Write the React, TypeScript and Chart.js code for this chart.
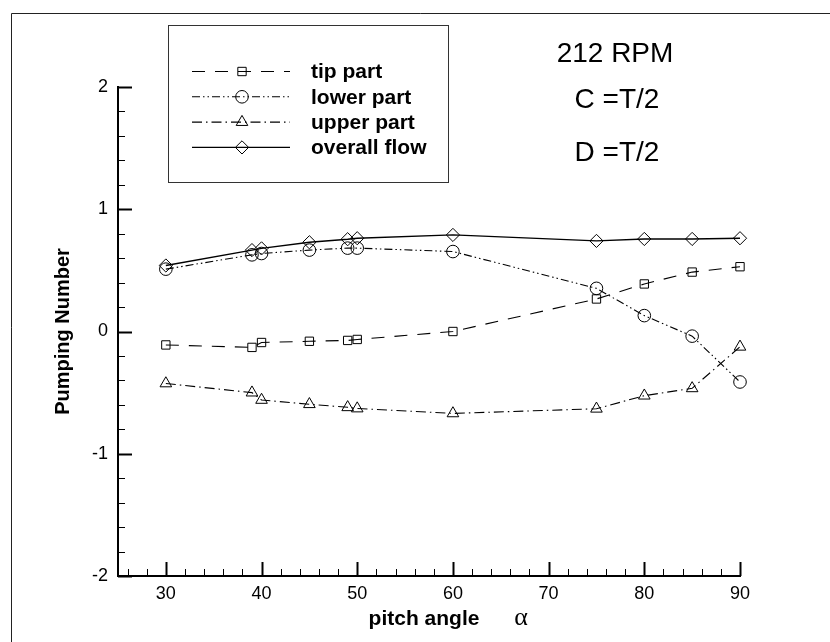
import React, { useEffect, useRef } from "react";
import { Chart, registerables } from "chart.js";

Chart.register(...registerables);

const FONT = "'Liberation Sans', Arial, Helvetica, sans-serif";
const SERIF = "'Liberation Serif', 'Times New Roman', serif";

// ---- data ----
const pitchAngles = [30, 39, 40, 45, 49, 50, 60, 75, 80, 85, 90];
const tipPart = [-0.11, -0.13, -0.09, -0.08, -0.073, -0.065, 0.0, 0.266, 0.389, 0.486, 0.53];
const lowerPart = [0.51, 0.627, 0.638, 0.666, 0.682, 0.682, 0.654, 0.353, 0.13, -0.038, -0.413];
const upperPart = [-0.425, -0.5, -0.56, -0.595, -0.62, -0.63, -0.67, -0.632, -0.525, -0.465, -0.125];
const overallFlow = [0.54, 0.666, 0.68, 0.73, 0.755, 0.763, 0.79, 0.741, 0.757, 0.757, 0.763];
const seriesLabels = ["tip part", "lower part", "upper part", "overall flow"];
const xTickValues = [30, 40, 50, 60, 70, 80, 90];
const yTickValues = [-2, -1, 0, 1, 2];
const notes = ["212 RPM", "C =T/2", "D =T/2"];
const xTitle = "pitch angle";
const xSymbol = "\u03B1";
const yTitle = "Pumping Number";

const seriesValues = [tipPart, lowerPart, upperPart, overallFlow];

const seriesStyle = [
  { pointStyle: "rect", radius: 5.9, dash: [13, 10], width: 1.1 },
  { pointStyle: "circle", radius: 6.3, dash: [8, 3, 1.5, 3, 1.5, 3], width: 1.1 },
  { pointStyle: "triangle", radius: 6.7, dash: [10, 4, 1.5, 4], width: 1.1 },
  { pointStyle: "rectRot", radius: 6.6, dash: [], width: 1.4 },
];

function drawMarker(ctx: CanvasRenderingContext2D, style: string, x: number, y: number, r: number) {
  ctx.beginPath();
  if (style === "circle") {
    ctx.arc(x, y, r, 0, Math.PI * 2);
  } else if (style === "rect") {
    const s = Math.SQRT1_2 * r;
    ctx.rect(x - s, y - s, 2 * s, 2 * s);
  } else if (style === "triangle") {
    ctx.moveTo(x, y - r);
    ctx.lineTo(x + 0.866 * r, y + 0.5 * r);
    ctx.lineTo(x - 0.866 * r, y + 0.5 * r);
    ctx.closePath();
  } else {
    ctx.moveTo(x - r, y);
    ctx.lineTo(x, y - r);
    ctx.lineTo(x + r, y);
    ctx.lineTo(x, y + r);
    ctx.closePath();
  }
  ctx.stroke();
}

const decorPlugin = {
  id: "decor",
  beforeDraw(chart: any) {
    const ctx = chart.ctx as CanvasRenderingContext2D;
    ctx.save();
    ctx.fillStyle = "#fff";
    ctx.fillRect(0, 0, chart.width, chart.height);
    ctx.strokeStyle = "#222";
    ctx.lineWidth = 1;
    ctx.beginPath();
    ctx.moveTo(11.5, chart.height);
    ctx.lineTo(11.5, 13.5);
    ctx.lineTo(chart.width, 13.5);
    ctx.stroke();
    ctx.restore();
  },
  afterDraw(chart: any) {
    const ctx = chart.ctx as CanvasRenderingContext2D;
    const xs = chart.scales.x;
    const ys = chart.scales.y;
    const area = chart.chartArea;
    ctx.save();
    ctx.strokeStyle = "#000";
    // x ticks (inward), every 2 units, major every 10
    for (let k = 13; k <= 45; k++) {
      const v = k * 2;
      const px = Math.round(xs.getPixelForValue(v)) + 0.5;
      const major = v % 10 === 0;
      ctx.lineWidth = major ? 2 : 1;
      ctx.beginPath();
      ctx.moveTo(px, area.bottom);
      ctx.lineTo(px, area.bottom - (major ? 14 : 7));
      ctx.stroke();
    }
    // y ticks, every 0.2, major every 1
    for (let k = -10; k <= 10; k++) {
      const py = Math.round(ys.getPixelForValue(k / 5)) + 0.5;
      const major = k % 5 === 0;
      ctx.lineWidth = major ? 2 : 1;
      ctx.beginPath();
      ctx.moveTo(area.left, py);
      ctx.lineTo(area.left + (major ? 14 : 7), py);
      ctx.stroke();
    }

    // legend box
    ctx.lineWidth = 1;
    ctx.strokeStyle = "#333";
    ctx.strokeRect(168.5, 25.5, 280, 157);
    chart.data.datasets.forEach((ds: any, i: number) => {
      const y = 71.5 + i * 25.3;
      ctx.strokeStyle = "#000";
      ctx.lineWidth = ds.borderWidth;
      ctx.setLineDash(ds.borderDash || []);
      ctx.beginPath();
      ctx.moveTo(192, y);
      ctx.lineTo(290, y);
      ctx.stroke();
      ctx.setLineDash([]);
      ctx.lineWidth = 1;
      drawMarker(ctx, ds.pointStyle, 242, y, ds.pointRadius);
      ctx.fillStyle = "#000";
      ctx.font = `bold 21px ${FONT}`;
      ctx.textAlign = "left";
      ctx.textBaseline = "alphabetic";
      ctx.fillText(ds.label, 311, y + 6.8);
    });

    // annotations
    ctx.fillStyle = "#000";
    ctx.font = `28px ${FONT}`;
    ctx.textAlign = "center";
    ctx.textBaseline = "alphabetic";
    ctx.fillText(notes[0], 615, 62);
    ctx.fillText(notes[1], 617, 108);
    ctx.fillText(notes[2], 617, 161);

    // x title
    ctx.font = `bold 21px ${FONT}`;
    ctx.textAlign = "center";
    ctx.fillText(xTitle, 424, 625);
    ctx.font = `26px ${SERIF}`;
    ctx.fillText(xSymbol, 521, 625);
    ctx.restore();
  },
};

export default function App() {
  const ref = useRef<HTMLCanvasElement | null>(null);
  useEffect(() => {
    if (!ref.current) return;
    const datasets = seriesLabels.map((label, i) => ({
      label,
      data: pitchAngles.map((x, j) => ({ x, y: seriesValues[i][j] })),
      borderColor: "#000",
      backgroundColor: "rgba(0,0,0,0)",
      borderWidth: seriesStyle[i].width,
      borderDash: seriesStyle[i].dash,
      pointStyle: seriesStyle[i].pointStyle,
      pointRadius: seriesStyle[i].radius,
      pointBorderWidth: 1,
      pointBorderColor: "#000",
      pointBackgroundColor: "rgba(0,0,0,0)",
      tension: 0,
      fill: false,
      clip: false,
    }));
    const tickFont = { family: FONT, size: 18 };
    const chart = new Chart(ref.current, {
      type: "line",
      data: { datasets } as any,
      options: {
        animation: false,
        responsive: false,
        maintainAspectRatio: false,
        layout: { padding: { left: 0, top: 87, right: 90, bottom: 0 } },
        plugins: { legend: { display: false }, tooltip: { enabled: false } },
        scales: {
          x: {
            type: "linear",
            min: 25,
            max: 90,
            afterBuildTicks: (s: any) => {
              s.ticks = xTickValues.map((v) => ({ value: v }));
            },
            afterFit: (s: any) => {
              s.height = 66;
            },
            grid: { display: false, drawTicks: false },
            border: { display: true, color: "#000", width: 2 },
            ticks: { padding: 7, color: "#000", font: tickFont, maxRotation: 0, callback: (v: any) => String(v) },
          },
          y: {
            type: "linear",
            min: -2,
            max: 2,
            afterBuildTicks: (s: any) => {
              s.ticks = yTickValues.map((v) => ({ value: v }));
            },
            afterFit: (s: any) => {
              s.width = 118;
            },
            grid: { display: false, drawTicks: false },
            border: { display: true, color: "#000", width: 2 },
            ticks: { padding: 10, color: "#000", font: tickFont, callback: (v: any) => String(v) },
            title: {
              display: true,
              text: yTitle,
              color: "#000",
              font: { family: FONT, size: 20, weight: "bold" },
              padding: { top: 51, bottom: 0 },
            },
          },
        },
      } as any,
      plugins: [decorPlugin],
    });
    return () => chart.destroy();
  }, []);
  return (
    <div style={{ position: "absolute", left: 0, top: 0, width: 830, height: 642, background: "#fff" }}>
      <canvas ref={ref} width={830} height={642} style={{ display: "block", width: 830, height: 642 }} />
    </div>
  );
}
